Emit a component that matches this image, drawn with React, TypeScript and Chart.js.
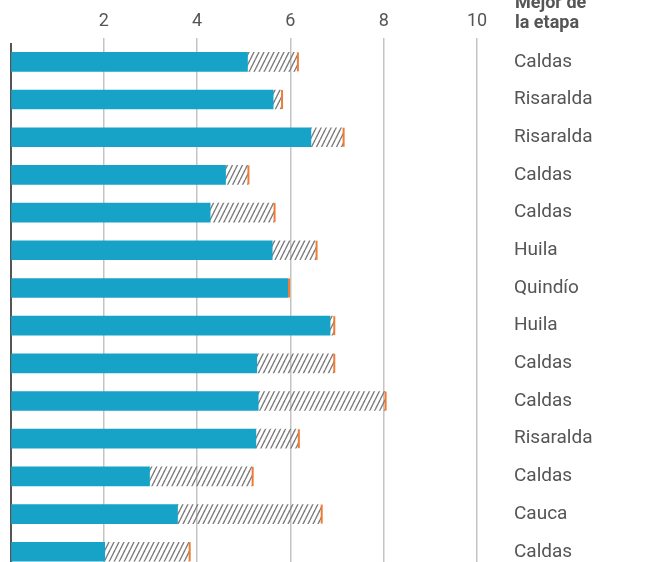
import React, { useEffect, useRef } from 'react';
import { Chart, registerables } from 'chart.js';

Chart.register(...registerables);

const categories = ['Caldas', 'Risaralda', 'Risaralda', 'Caldas', 'Caldas', 'Huila', 'Quindío', 'Huila', 'Caldas', 'Caldas', 'Risaralda', 'Caldas', 'Cauca', 'Caldas'];
const actual = [5.08, 5.63, 6.44, 4.61, 4.28, 5.61, 5.95, 6.85, 5.28, 5.31, 5.26, 2.98, 3.58, 2.02];
const best = [6.15, 5.81, 7.13, 5.09, 5.65, 6.55, 5.96, 6.93, 6.93, 8.03, 6.17, 5.18, 6.66, 3.83];
const xTickValues = [0, 2, 4, 6, 8, 10];
const headerLines = ['Mejor de', 'la etapa'];

const BLUE = '#16a3c7';
const ORANGE = '#f07c33';
const FONT = 'Roboto, "Open Sans", sans-serif';

function makeHatch(): CanvasPattern | string {
  const c = document.createElement('canvas');
  c.width = 5;
  c.height = 10;
  const g = c.getContext('2d');
  if (!g) return '#999';
  g.strokeStyle = '#7a7a7a';
  g.lineWidth = 1.4;
  for (const dx of [-5, 0, 5]) {
    g.beginPath();
    g.moveTo(dx, 10);
    g.lineTo(dx + 5, 0);
    g.stroke();
  }
  const p = g.createPattern(c, 'repeat');
  return p || '#999';
}

export default function App() {
  const ref = useRef<HTMLCanvasElement | null>(null);

  useEffect(() => {
    if (!ref.current) return;
    const hatch = makeHatch();
    const gap = best.map((b, i) => Math.max(0, b - actual[i]));

    const endTicks = {
      id: 'endTicks',
      afterDatasetsDraw(chart: any) {
        const { ctx } = chart;
        const xs = chart.scales.x;
        const meta = chart.getDatasetMeta(1);
        ctx.save();
        ctx.fillStyle = ORANGE;
        best.forEach((b, i) => {
          const el = meta.data[i];
          if (!el) return;
          const x = xs.getPixelForValue(b);
          const h = el.height;
          ctx.fillRect(x - 0.5, el.y - h / 2, 2, h);
        });
        ctx.restore();
      },
    };

    const chart = new Chart(ref.current, {
      type: 'bar',
      data: {
        labels: categories,
        datasets: [
          {
            label: 'Tiempo',
            data: actual,
            backgroundColor: BLUE,
            borderWidth: 0,
            barThickness: 19,
          },
          {
            label: 'Diferencia',
            data: gap,
            backgroundColor: hatch as any,
            borderWidth: 0,
            barThickness: 19,
          },
        ],
      },
      options: {
        indexAxis: 'y',
        animation: false,
        responsive: false,
        maintainAspectRatio: false,
        layout: { padding: { left: 10.5, right: 0, top: 0, bottom: 0 } },
        plugins: {
          legend: { display: false },
          tooltip: { enabled: false },
        },
        scales: {
          x: {
            type: 'linear',
            position: 'top',
            stacked: true,
            min: 0,
            max: 10,
            afterBuildTicks: (s: any) => {
              s.ticks = xTickValues.map((v) => ({ value: v }));
            },
            afterFit: (s: any) => {
              s.height = 43;
            },
            border: { display: false },
            grid: {
              tickLength: 5,
              color: (c: any) => (c.tick && c.tick.value === 0 ? '#555555' : '#c4c4c4'),
              tickColor: (c: any) => (c.tick && c.tick.value === 0 ? 'rgba(0,0,0,0)' : '#c4c4c4'),
              lineWidth: (c: any) => (c.tick && c.tick.value === 0 ? 2 : 1.5),
            },
            ticks: {
              padding: 6,
              color: '#555555',
              font: { family: FONT, size: 18 },
              callback: (v: any) => (v === 0 ? '' : String(v)),
            },
          },
          y: {
            type: 'category',
            position: 'right',
            stacked: true,
            afterFit: (s: any) => {
              s.width = 170;
            },
            border: { display: false },
            grid: { display: false, drawTicks: true, tickLength: 37 },
            ticks: {
              crossAlign: 'near',
              padding: 0,
              color: '#555555',
              font: { family: FONT, size: 19 },
            },
          },
        },
      },
      plugins: [endTicks],
    });
    return () => chart.destroy();
  }, []);

  return (
    <div style={{ position: 'fixed', left: 0, top: 0, width: 647, height: 562, overflow: 'hidden', background: '#fff' }}>
      <canvas ref={ref} width={647} height={582} style={{ position: 'absolute', left: 0, top: 0, width: 647, height: 582 }} />
      <div
        style={{
          position: 'absolute',
          left: 515,
          top: -8,
          fontFamily: FONT,
          fontWeight: 700,
          fontSize: 18,
          lineHeight: '20px',
          color: '#555555',
        }}
      >
        {headerLines.map((l) => (
          <div key={l}>{l}</div>
        ))}
      </div>
    </div>
  );
}
